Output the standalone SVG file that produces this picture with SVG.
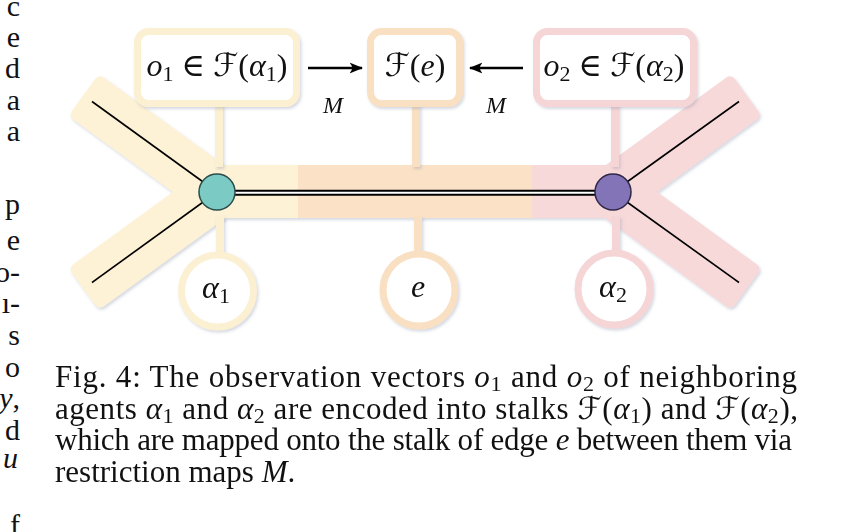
<svg xmlns="http://www.w3.org/2000/svg" width="845" height="532" viewBox="0 0 845 532">
  <style>
    .math { font-family: "Liberation Serif", "DejaVu Serif", serif; fill: #111; }
    .it { font-style: italic; }
    .cal { font-family: "DejaVu Serif", "DejaVu Sans", serif; font-style: normal; }
    .cap { font-family: "Liberation Serif", "DejaVu Serif", serif; font-size: 31px; fill: #111; }
    .col { font-family: "Liberation Serif", "DejaVu Serif", serif; font-size: 30px; fill: #111; text-anchor: end; }
    .box { fill: #ffffff; stroke-width: 7; }
    .ylw { stroke: #fcf0d2; }
    .org { stroke: #fae0c3; }
    .pnk { stroke: #f6d5d6; }
    .arr { stroke: #000; stroke-width: 2.6; fill: none; }
    .edge-line { stroke: #000; stroke-width: 1.6; }
  </style>
  <defs>
    <filter id="sh" x="-10%" y="-10%" width="130%" height="130%">
      <feDropShadow dx="1.5" dy="2" stdDeviation="1.6" flood-color="#8890a8" flood-opacity="0.35"/>
    </filter>
    <marker id="ah" viewBox="0 0 12 10" refX="11" refY="5" markerWidth="5.2" markerHeight="4.4" orient="auto-start-reverse" markerUnits="strokeWidth">
      <path d="M0,0.3 Q4.5,5 0,9.7 L12,5 z" fill="#000"/>
    </marker>
  </defs>

  <!-- fragments of neighbouring column -->
  <g id="margin-text">
    <text class="col" x="20" y="16">c</text>
    <text class="col" x="20" y="47">e</text>
    <text class="col" x="20" y="78">d</text>
    <text class="col" x="20" y="110">a</text>
    <text class="col" x="20" y="141">a</text>
    <text class="col" x="20" y="214">p</text>
    <text class="col" x="20" y="250">e</text>
    <text class="col" x="20" y="282">o-</text>
    <text class="col" x="20" y="313">ı-</text>
    <text class="col" x="20" y="345">s</text>
    <text class="col" x="20" y="377">o</text>
    <text class="col" x="20" y="408"><tspan font-style="italic">y</tspan>,</text>
    <text class="col" x="20" y="440">d</text>
    <text class="col" x="18" y="468" font-size="20" font-style="italic">u</text>
    <text class="col" x="20" y="535">f</text>
  </g>

  <!-- graph background: arms and edge band -->
  <g id="band" filter="url(#sh)">
    <rect x="200" y="165" width="100" height="53" fill="#fdf2d5"/>
    <rect x="298" y="165" width="236" height="53" fill="#fbe2c6"/>
    <rect x="532" y="165" width="100" height="53" fill="#f8d9da"/>
    <rect x="-6" y="-26" width="171" height="52" rx="6" fill="#fdf2d5" transform="translate(217,192) rotate(216)"/>
    <rect x="-6" y="-26" width="171" height="52" rx="6" fill="#fdf2d5" transform="translate(217,192) rotate(144)"/>
    <rect x="-6" y="-26" width="171" height="52" rx="6" fill="#f8d9da" transform="translate(613,192) rotate(-36)"/>
    <rect x="-6" y="-26" width="171" height="52" rx="6" fill="#f8d9da" transform="translate(613,192) rotate(36)"/>
  </g>

  <!-- connectors -->
  <g id="connectors">
    <g filter="url(#sh)">
      <line x1="219" y1="104" x2="219" y2="167" stroke="#fcf0d2" stroke-width="8"/>
      <line x1="416" y1="104" x2="416" y2="167" stroke="#fae0c3" stroke-width="8"/>
      <line x1="615" y1="104" x2="615" y2="167" stroke="#f6d5d6" stroke-width="8"/>
      <line x1="220" y1="216" x2="220" y2="256" stroke="#fcf0d2" stroke-width="8"/>
      <line x1="418" y1="216" x2="418" y2="256" stroke="#fae0c3" stroke-width="8"/>
      <line x1="616" y1="216" x2="616" y2="256" stroke="#f6d5d6" stroke-width="8"/>
    </g>
    <line class="edge-line" x1="217" y1="192" x2="92" y2="101.5"/>
    <line class="edge-line" x1="217" y1="192" x2="92" y2="282.5"/>
    <line class="edge-line" x1="613" y1="192" x2="739" y2="101.5"/>
    <line class="edge-line" x1="613" y1="192" x2="739" y2="282.5"/>
    <line x1="217" y1="192.8" x2="613" y2="192.8" stroke="#000" stroke-width="6"/>
    <line x1="217" y1="192.8" x2="613" y2="192.8" stroke="#ffffff" stroke-width="2"/>
    <line class="arr" x1="308" y1="68" x2="362" y2="68" marker-end="url(#ah)"/>
    <line class="arr" x1="523" y1="68" x2="470" y2="68" marker-end="url(#ah)"/>
    <text class="math it" x="333" y="113" font-size="24" text-anchor="middle">M</text>
    <text class="math it" x="496" y="113" font-size="24" text-anchor="middle">M</text>
  </g>

  <!-- agent nodes -->
  <g id="node-agent1">
    <circle cx="217" cy="192" r="18" fill="#7ccac4" stroke="#2b4d4a" stroke-width="1.5"/>
  </g>
  <g id="node-agent2">
    <circle cx="613" cy="192" r="18" fill="#8373b7" stroke="#2f2748" stroke-width="1.5"/>
  </g>

  <!-- stalk boxes -->
  <g id="stalk-alpha1">
    <rect class="box ylw" x="137.5" y="31.5" width="159" height="72" rx="11" filter="url(#sh)"/>
    <text class="math" x="217" y="76" font-size="32" text-anchor="middle"><tspan class="it">o</tspan><tspan font-size="22" dy="5">1</tspan><tspan dy="-5"> ∈ </tspan><tspan class="cal">ℱ</tspan>(<tspan class="it">α</tspan><tspan font-size="22" dy="5">1</tspan><tspan dy="-5">)</tspan></text>
  </g>
  <g id="stalk-edge">
    <rect class="box org" x="370.5" y="31.5" width="89" height="72" rx="11" filter="url(#sh)"/>
    <text class="math" x="415" y="76" font-size="32" text-anchor="middle"><tspan class="cal">ℱ</tspan>(<tspan class="it">e</tspan>)</text>
  </g>
  <g id="stalk-alpha2">
    <rect class="box pnk" x="536.5" y="31.5" width="157" height="72" rx="11" filter="url(#sh)"/>
    <text class="math" x="614" y="76" font-size="32" text-anchor="middle"><tspan class="it">o</tspan><tspan font-size="22" dy="5">2</tspan><tspan dy="-5"> ∈ </tspan><tspan class="cal">ℱ</tspan>(<tspan class="it">α</tspan><tspan font-size="22" dy="5">2</tspan><tspan dy="-5">)</tspan></text>
  </g>

  <!-- label circles -->
  <g id="label-alpha1">
    <circle class="box ylw" cx="217.5" cy="291" r="36" filter="url(#sh)"/>
    <text class="math" x="216" y="298" font-size="32" text-anchor="middle"><tspan class="it">α</tspan><tspan font-size="22" dy="5">1</tspan></text>
  </g>
  <g id="label-e">
    <circle class="box org" cx="419" cy="290" r="36" filter="url(#sh)"/>
    <text class="math it" x="418" y="297" font-size="32" text-anchor="middle">e</text>
  </g>
  <g id="label-alpha2">
    <circle class="box pnk" cx="614" cy="289" r="36" filter="url(#sh)"/>
    <text class="math" x="613" y="297" font-size="32" text-anchor="middle"><tspan class="it">α</tspan><tspan font-size="22" dy="5">2</tspan></text>
  </g>

  <!-- caption -->
  <g id="caption">
    <text class="cap" x="55" y="387" textLength="742" lengthAdjust="spacing">Fig. 4: The observation vectors <tspan font-style="italic">o</tspan><tspan font-size="22" dy="4">1</tspan><tspan dy="-4"> and </tspan><tspan font-style="italic">o</tspan><tspan font-size="22" dy="4">2</tspan><tspan dy="-4"> of neighboring</tspan></text>
    <text class="cap" x="55" y="419" textLength="743" lengthAdjust="spacing">agents <tspan font-style="italic">α</tspan><tspan font-size="22" dy="4">1</tspan><tspan dy="-4"> and </tspan><tspan font-style="italic">α</tspan><tspan font-size="22" dy="4">2</tspan><tspan dy="-4"> are encoded into stalks </tspan><tspan class="cal">ℱ</tspan>(<tspan font-style="italic">α</tspan><tspan font-size="22" dy="4">1</tspan><tspan dy="-4">) and </tspan><tspan class="cal">ℱ</tspan>(<tspan font-style="italic">α</tspan><tspan font-size="22" dy="4">2</tspan><tspan dy="-4">),</tspan></text>
    <text class="cap" x="55" y="450" textLength="737" lengthAdjust="spacing">which are mapped onto the stalk of edge <tspan font-style="italic">e</tspan> between them via</text>
    <text class="cap" x="55" y="482">restriction maps <tspan font-style="italic">M</tspan>.</text>
  </g>
</svg>
